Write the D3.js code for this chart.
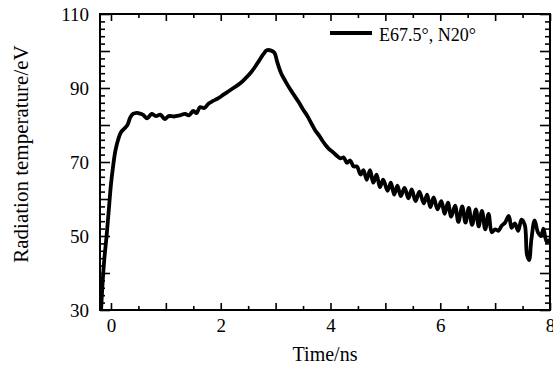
<!DOCTYPE html>
<html>
<head>
<meta charset="utf-8">
<script src="https://cdn.jsdelivr.net/npm/d3@7"></script>
<style>
  body { margin: 0; background: #fff; }
  text { font-family: "Liberation Serif", "Times New Roman", serif; fill: #000; }
</style>
</head>
<body>
<div id="container"></div>
<script>
/* CONSTANTS AND GLOBALS */
const margin = {top: 14, right: 3, bottom: 59, left: 100};
const width = 553 - margin.left - margin.right;
const height = 369 - margin.top - margin.bottom;

/* DATA */
const seriesName = "E67.5\u00b0, N20\u00b0";
const timeNs = [
  -0.18, -0.15, -0.12, -0.08, -0.04, 0.00, 0.04, 0.08, 0.13, 0.18, 0.24, 0.30, 0.35, 0.40, 0.47,
  0.50, 0.58, 0.66, 0.74, 0.82, 0.90, 0.98, 1.05, 1.15, 1.25, 1.35, 1.42, 1.50, 1.56, 1.62,
  1.70, 1.78, 1.86, 1.95, 2.05, 2.15, 2.25, 2.35, 2.45, 2.55, 2.63, 2.70, 2.78, 2.84, 2.92,
  2.98, 3.03, 3.10, 3.18, 3.26, 3.34, 3.42, 3.50, 3.58, 3.66, 3.72, 3.80, 3.86, 3.92, 3.98,
  4.05, 4.12, 4.18, 4.24, 4.30, 4.36, 4.42, 4.48, 4.55, 4.60, 4.66, 4.72, 4.78, 4.84, 4.90,
  4.96, 5.04, 5.10, 5.16, 5.22, 5.28, 5.35, 5.42, 5.48, 5.55, 5.62, 5.70, 5.76, 5.82, 5.88,
  5.95, 6.02, 6.08, 6.14, 6.20, 6.27, 6.33, 6.40, 6.46, 6.52, 6.58, 6.65, 6.70, 6.76, 6.82,
  6.88, 6.94, 7.00, 7.06, 7.12, 7.18, 7.25, 7.30, 7.36, 7.42, 7.48, 7.54, 7.58, 7.62, 7.66,
  7.72, 7.78, 7.84, 7.88, 7.94, 8.00
];
const radTemp = [
  30, 38, 44, 50, 57, 64, 69, 73, 76, 78, 79, 80, 82, 83, 83.3,
  83.2, 82.8, 81.8, 83.0, 82.4, 82.8, 81.6, 82.4, 82.3, 82.6, 83.0, 82.6, 83.8, 83.2, 84.8,
  84.6, 85.8, 86.5, 87.2, 88.2, 89.2, 90.2, 91.2, 92.6, 94.2, 95.8, 97.4, 99.2, 100.2, 100.1,
  99.5, 97, 94, 91.8, 89.8, 88, 86.2, 84.2, 82.4, 80.2, 78.6, 77.0, 75.6, 74.4, 73.4,
  72.6, 71.6, 71.0, 71.2, 69.8, 70.4, 68.8, 68.8, 66.6, 67.8, 65.2, 67.8, 64.4, 66.6, 63.2,
  65.2, 62.2, 64.4, 61.2, 63.6, 60.8, 63.0, 60.2, 62.6, 59.4, 62.0, 58.8, 61.2, 57.8, 60.4,
  57.2, 59.4, 56.0, 59.0, 55.2, 58.2, 53.8, 58.0, 53.6, 57.6, 53.0, 57.2, 52.6, 56.8, 51.8,
  56.0, 51.0, 51.8, 51.4, 52.8, 53.6, 55.4, 52.2, 53.4, 51.4, 54.4, 53.0, 45.0, 43.5, 49.0,
  54.2, 51.0, 50.0, 52.0, 48.5, 49.0
];
const xMajorTicks = [0, 1, 2, 3, 4, 5, 6, 7, 8];
const xMinorTicks = [0.5, 1.5, 2.5, 3.5, 4.5, 5.5, 6.5, 7.5];
const xLabelTicks = [0, 2, 4, 6, 8];
const yMajorTicks = [30, 40, 50, 60, 70, 80, 90, 100, 110];
const yMinorTicks = d3.range(32, 110, 2).filter(v => v % 10 !== 0);
const yLabelTicks = [30, 50, 70, 90, 110];

const data = timeNs.map((t, i) => ({t: t, temp: radTemp[i]}));

const svg = d3.select("#container").append("svg")
    .attr("width", width + margin.left + margin.right)
    .attr("height", height + margin.top + margin.bottom)
    .attr("overflow", "visible")
  .append("g")
    .attr("transform", "translate(" + margin.left + "," + margin.top + ")");

const xScale = d3.scaleLinear().domain([-0.2, 8]).range([0, width]);
const yScale = d3.scaleLinear().domain([30, 110]).range([height, 0]);

// clip the curve to the frame
svg.append("clipPath").attr("id", "plotclip")
  .append("rect").attr("width", width).attr("height", height);

// ticks point inward on all four sides
function xAxis(axisFn, vals, size, labels) {
  return axisFn(xScale).tickValues(vals).tickSize(-size).tickPadding(9)
    .tickFormat(d => labels && xLabelTicks.includes(d) ? d : "");
}
function yAxis(axisFn, vals, size, labels) {
  return axisFn(yScale).tickValues(vals).tickSize(-size).tickPadding(11)
    .tickFormat(d => labels && yLabelTicks.includes(d) ? d : "");
}

const axes = [
  {fn: xAxis(d3.axisBottom, xMinorTicks, 4, false), tr: [0, height]},
  {fn: xAxis(d3.axisBottom, xMajorTicks, 7, true), tr: [0, height]},
  {fn: xAxis(d3.axisTop, xMinorTicks, 4, false), tr: [0, 0]},
  {fn: xAxis(d3.axisTop, xMajorTicks, 7, false), tr: [0, 0]},
  {fn: yAxis(d3.axisLeft, yMinorTicks, 5, false), tr: [0, 0]},
  {fn: yAxis(d3.axisLeft, yMajorTicks, 10, true), tr: [0, 0]},
  {fn: yAxis(d3.axisRight, yMinorTicks, 5, false), tr: [width, 0]},
  {fn: yAxis(d3.axisRight, yMajorTicks, 10, false), tr: [width, 0]}
];
axes.forEach(a => {
  const g = svg.append("g")
    .attr("transform", "translate(" + a.tr[0] + "," + a.tr[1] + ")")
    .call(a.fn);
  g.select(".domain").remove();
  g.selectAll("line").attr("stroke", "#000").attr("stroke-width", 1.6);
  g.selectAll("text")
    .style("font-size", "19px")
    .style("font-family", "'Liberation Serif', 'Times New Roman', serif");
});

// frame
svg.append("rect")
  .attr("width", width)
  .attr("height", height)
  .attr("fill", "none")
  .attr("stroke", "#000")
  .attr("stroke-width", 2);

// the curve
const line = d3.line()
  .x(d => xScale(d.t))
  .y(d => yScale(d.temp))
  .curve(d3.curveCatmullRom);

svg.append("path")
  .datum(data)
  .attr("clip-path", "url(#plotclip)")
  .attr("fill", "none")
  .attr("stroke", "#000")
  .attr("stroke-width", 3.8)
  .attr("stroke-linejoin", "round")
  .attr("stroke-linecap", "round")
  .attr("d", line);

// legend
svg.append("line")
  .attr("x1", 230).attr("x2", 272)
  .attr("y1", 19).attr("y2", 19)
  .attr("stroke", "#000")
  .attr("stroke-width", 3.8);
svg.append("text")
  .attr("x", 279)
  .attr("y", 27)
  .style("font-size", "18px")
  .text(seriesName);

// axis titles
svg.append("text")
  .attr("text-anchor", "middle")
  .attr("x", width / 2)
  .attr("y", height + 51)
  .style("font-size", "20px")
  .text("Time/ns");

svg.append("text")
  .attr("text-anchor", "middle")
  .attr("transform", "translate(" + (28 - margin.left) + "," + (154 - margin.top) + ") rotate(-90)")
  .style("font-size", "21px")
  .text("Radiation temperature/eV");
</script>
</body>
</html>
